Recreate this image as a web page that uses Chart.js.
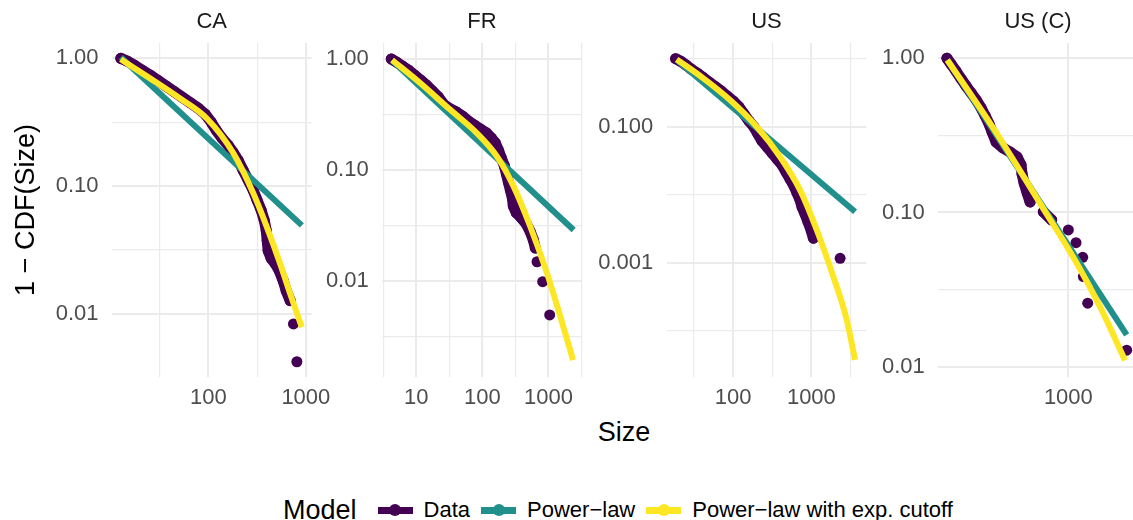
<!DOCTYPE html>
<html>
<head>
<meta charset="utf-8">
<script src="https://cdn.jsdelivr.net/npm/chart.js@4.4.0/dist/chart.umd.min.js"></script>
<style>
html,body{margin:0;padding:0;background:#fff;}
#wrap{position:relative;width:1133px;height:520px;overflow:hidden;background:#fff;font-family:"Liberation Sans",Arial,Helvetica,sans-serif;}
#xtitle{position:absolute;left:524px;width:200px;top:416px;height:32px;line-height:32px;text-align:center;font-size:27px;color:#000;}
#legend{position:absolute;left:283px;top:494px;height:32px;display:flex;align-items:center;white-space:nowrap;}
#legend .lt{font-size:27px;color:#000;margin-right:21px;}
#legend .lb{font-size:22px;color:#000;margin:0 11px;}
#legend .key{position:relative;display:inline-block;width:35px;height:28px;}
#legend .key .ln{position:absolute;left:0;right:0;top:10.5px;height:7px;}
#legend .key .dt{position:absolute;left:11.5px;top:8px;width:12px;height:12px;border-radius:50%;}
</style>
</head>
<body>
<div id="wrap">
  <div id="xtitle">Size</div>
  <div id="legend">
    <span class="lt">Model</span>
    <span class="key"><i class="ln" style="background:#440154"></i><i class="dt" style="background:#440154"></i></span><span class="lb">Data</span>
    <span class="key"><i class="ln" style="background:#21908C"></i><i class="dt" style="background:#21908C"></i></span><span class="lb">Power−law</span>
    <span class="key"><i class="ln" style="background:#FDE725"></i><i class="dt" style="background:#FDE725"></i></span><span class="lb">Power−law with exp. cutoff</span>
  </div>
</div>
<script>
// ---------- DATA ----------
// CA
const caSize = [12.6,14.6,17.3,20.8,25.2,30.5,36.8,44.5,53.7,64.9,78.4,92.5,107,120,138,159,179,202,227,256,288,316,348,374,392,401,410,440,484,532,585,628,690,746,809];
const caCcdf = [1.000,0.953,0.886,0.809,0.739,0.670,0.606,0.549,0.497,0.450,0.408,0.366,0.316,0.274,0.237,0.209,0.184,0.159,0.133,0.111,0.0927,0.0774,0.0647,0.0540,0.0450,0.0376,0.0313,0.0272,0.0248,0.0219,0.0182,0.0152,0.0127,0.00835,0.00422];
const caPlSize = [12.6, 910];
const caPl = [1.02, 0.0493];
const caPlcSize = [12.6,25.2,51.2,96.4,181,290,398,545,690,910];
const caPlc = [0.982,0.697,0.485,0.338,0.180,0.0873,0.0478,0.0247,0.0144,0.00785];
// FR
const frSize = [4.2,5.01,6.18,7.61,9.38,11.6,14.2,17.5,21.6,26.7,32.8,40.5,49.9,61.4,75.7,93.3,115,137,157,175,194,215,231,247,265,284,294,327,389,463,532,590,632,671,817,1042];
const frCcdf = [1.0,0.940,0.865,0.796,0.718,0.647,0.583,0.515,0.455,0.385,0.355,0.333,0.306,0.276,0.254,0.234,0.216,0.194,0.175,0.151,0.128,0.109,0.092,0.078,0.066,0.056,0.0474,0.0410,0.0370,0.0326,0.0276,0.0234,0.0198,0.0149,0.00986,0.00494];
const frPlSize = [4.32, 2400];
const frPl = [0.966, 0.0288];
const frPlcSize = [4.32,11.6,32.8,83.2,167,298,532,951,1510,2350];
const frPlc = [0.980,0.604,0.348,0.214,0.132,0.0708,0.0308,0.0117,0.00478,0.00194];
// US
const usSize = [18.5,21.7,25.1,29.1,34.7,41.4,49.4,58.9,70.3,83.8,100,119,138,160,185,208,234,272,315,365,423,475,535,601,657,718,761,831,908,962,1062,2328];
const usCcdf = [1.0,0.910,0.808,0.706,0.616,0.529,0.454,0.390,0.335,0.283,0.239,0.195,0.154,0.121,0.0990,0.0782,0.0617,0.0503,0.0410,0.0335,0.0273,0.0216,0.0170,0.0134,0.0106,0.00836,0.00659,0.00520,0.00397,0.00335,0.00229,0.00116];
const usPlSize = [19.1, 3614];
const usPl = [0.957, 0.00562];
const usPlcSize = [19.1,41.8,91.6,201,398,718,1172,1910,2831,3614];
const usPlc = [0.979,0.514,0.247,0.100,0.0362,0.0117,0.00303,0.000622,0.000144,0.0000371];
// US (C)
const uscSize = [155,165,178,193,208,225,243,262,279,296,310,330,367,408,455,484,491,507,531,556,681,774,1000,1125,1247,1259,1346,2449];
const uscCcdf = [1.0,0.918,0.828,0.734,0.661,0.596,0.537,0.476,0.423,0.375,0.333,0.286,0.262,0.247,0.229,0.203,0.178,0.155,0.134,0.117,0.101,0.0894,0.0771,0.0637,0.0512,0.0384,0.0258,0.0128];
const uscPlSize = [156, 2449];
const uscPl = [0.975, 0.0161];
const uscPlcSize = [156,316,681,1138,1626,2388];
const uscPlc = [0.975,0.352,0.106,0.0469,0.0245,0.0110];

// tick values and labels
const caXTicks = [31.62,100,316.2,1000];           const caXLabels = ['','100','','1000'];
const caYTicks = [0.01,0.03162,0.1,0.3162,1];       const caYLabels = ['0.01','','0.10','','1.00'];
const frXTicks = [3.162,10,31.62,100,316.2,1000,3162]; const frXLabels = ['','10','','100','','1000',''];
const frYTicks = [0.003162,0.01,0.03162,0.1,0.3162,1]; const frYLabels = ['','0.01','','0.10','','1.00'];
const usXTicks = [31.62,100,316.2,1000,3162];       const usXLabels = ['','100','','1000',''];
const usYTicks = [0.0001,0.001,0.01,0.1,1];         const usYLabels = ['','0.001','','0.100',''];
const uscXTicks = [1000];                            const uscXLabels = ['1000'];
const uscYTicks = [0.01,0.03162,0.1,0.3162,1];      const uscYLabels = ['0.01','','0.10','','1.00'];

// ---------- STYLE / LAYOUT ----------
const PURPLE = '#440154', TEAL = '#21908C', YELLOW = '#FDE725';
const FONT = '"Liberation Sans", Arial, Helvetica, sans-serif';
const GRID = '#EBEBEB';
const PW = 199.5, TOP = 43, PH = 334, XH = 60;
const CH = TOP + PH + XH;
const E = v => Math.pow(10, v);

const panels = [
  {title:'CA', cl:0, cw:340, L:112, xr:[1.01,3.058], yr:[-2.494,0.12],
   dx:caSize, dy:caCcdf, px:caPlSize, py:caPl, cx:caPlcSize, cy:caPlc,
   xt:caXTicks, xl:caXLabels, yt:caYTicks, yl:caYLabels, ytitle:true},
  {title:'FR', cl:312, cw:300, L:382.2, xr:[0.486,3.502], yr:[-2.865,0.144],
   dx:frSize, dy:frCcdf, px:frPlSize, py:frPl, cx:frPlcSize, cy:frPlc,
   xt:frXTicks, xl:frXLabels, yt:frYTicks, yl:frYLabels},
  {title:'US', cl:596, cw:300, L:666.7, xr:[1.153,3.70], yr:[-4.681,0.231],
   dx:usSize, dy:usCcdf, px:usPlSize, py:usPl, cx:usPlcSize, cy:usPlc,
   xt:usXTicks, xl:usXLabels, yt:usYTicks, yl:usYLabels},
  {title:'US (C)', cl:868, cw:300, L:938.3, xr:[2.133,3.463], yr:[-2.067,0.099],
   dx:uscSize, dy:uscCcdf, px:uscPlSize, py:uscPl, cx:uscPlcSize, cy:uscPlc,
   xt:uscXTicks, xl:uscXLabels, yt:uscYTicks, yl:uscYLabels}
];

const wrap = document.getElementById('wrap');
const pts = (xs, ys) => xs.map((x, i) => ({x: x, y: ys[i]}));

panels.forEach(p => {
  const yw = p.L - p.cl;
  const padR = p.cw - yw - PW;
  const cv = document.createElement('canvas');
  cv.width = p.cw; cv.height = CH;
  cv.style.cssText = 'position:absolute;top:0;left:' + p.cl + 'px;width:' + p.cw + 'px;height:' + CH + 'px;';
  wrap.appendChild(cv);
  const xMajor = v => p.xl[p.xt.indexOf(v)] !== '';
  const yMajor = v => p.yl[p.yt.indexOf(v)] !== '';
  new Chart(cv, {
    type: 'line',
    data: {
      datasets: [
        {label:'Data', data: pts(p.dx, p.dy), order: 3,
         borderColor: PURPLE, backgroundColor: PURPLE, borderWidth: 11,
         borderJoinStyle: 'round', borderCapStyle: 'round',
         pointRadius: 5.5, pointBorderWidth: 0, pointBackgroundColor: PURPLE,
         segment: {borderColor: c => (Math.hypot(c.p1.x - c.p0.x, c.p1.y - c.p0.y) > 13 ? 'rgba(0,0,0,0)' : undefined)}},
        {label:'Power−law', data: pts(p.px, p.py), order: 2,
         borderColor: TEAL, borderWidth: 6, pointRadius: 0, borderCapStyle: 'butt'},
        {label:'Power−law with exp. cutoff', data: pts(p.cx, p.cy), order: 1,
         borderColor: YELLOW, borderWidth: 6, pointRadius: 0, borderCapStyle: 'butt',
         cubicInterpolationMode: 'monotone'}
      ]
    },
    options: {
      responsive: false, animation: false, devicePixelRatio: 1, events: [],
      layout: {padding: {left: 0, right: padR, top: 0, bottom: 0}},
      plugins: {
        legend: {display: false}, tooltip: {enabled: false},
        title: {display: true, text: p.title, fullSize: false, color: '#1A1A1A',
                font: {family: FONT, size: 22, weight: 'normal', lineHeight: 1.2},
                padding: {top: 9, bottom: 7.6}}
      },
      scales: {
        x: {type: 'logarithmic', bounds: 'data', min: E(p.xr[0]), max: E(p.xr[1]),
            afterFit: s => { s.height = XH; },
            afterBuildTicks: s => { s.ticks = p.xt.map(v => ({value: v})); },
            ticks: {autoSkip: false, maxRotation: 0, minRotation: 0, padding: 8, color: '#4D4D4D',
                    font: {family: FONT, size: 22, lineHeight: 1.2},
                    callback: (v, i) => p.xl[i]},
            grid: {drawTicks: false, color: GRID, lineWidth: c => (c.tick && xMajor(c.tick.value) ? 2 : 1.2)},
            border: {display: false}},
        y: {type: 'logarithmic', bounds: 'data', min: E(p.yr[0]), max: E(p.yr[1]),
            afterFit: s => { s.width = yw; },
            afterBuildTicks: s => { s.ticks = p.yt.map(v => ({value: v})); },
            ticks: {autoSkip: false, padding: 13.5, color: '#4D4D4D',
                    font: {family: FONT, size: 22, lineHeight: 1.2},
                    callback: (v, i) => p.yl[i]},
            grid: {drawTicks: false, color: GRID, lineWidth: c => (c.tick && yMajor(c.tick.value) ? 2 : 1.2)},
            border: {display: false},
            title: {display: !!p.ytitle, text: '1 − CDF(Size)', color: '#000',
                    font: {family: FONT, size: 27, lineHeight: 1.2}, padding: {top: 10.8, bottom: 0}}}
      }
    }
  });
});
</script>
</body>
</html>
